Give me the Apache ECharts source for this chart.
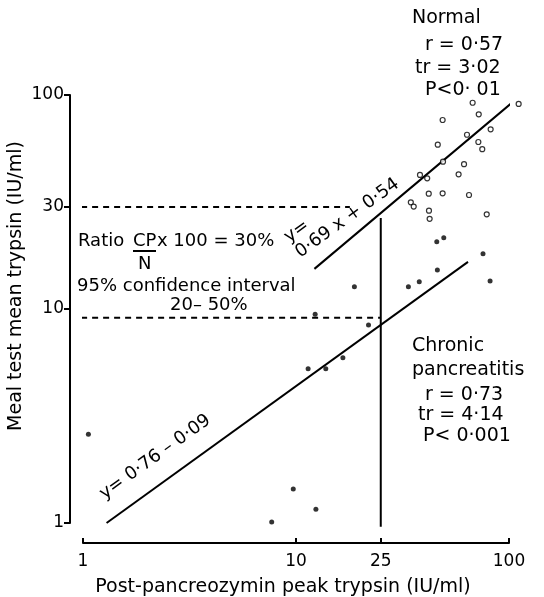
<!DOCTYPE html>
<html>
<head>
<meta charset="utf-8">
<script src="https://cdn.jsdelivr.net/npm/echarts@6/dist/echarts.min.js"></script>
<style>
  html, body { margin: 0; padding: 0; background: #fff; }
  #chart { width: 544px; height: 597px; }
</style>
</head>
<body>
<div id="chart"></div>
<script>
// axis ticks
const xTicks = [1, 10, 25, 100];
const yTicks = [1, 10, 30, 100];

// Normal subjects (open circles)
const normalX = [67.5, 111, 72.1, 48.8, 82.0, 63.5, 71.8, 46.3, 74.9, 49.0, 61.5, 38.2, 41.3, 58.0, 42.0, 48.8, 64.9, 34.6, 35.7, 42.1, 42.4, 78.6];
const normalY = [92.0, 90.8, 81.2, 76.4, 69.1, 65.2, 60.3, 58.6, 55.8, 48.8, 47.5, 42.3, 40.8, 42.6, 34.6, 34.7, 34.1, 31.5, 30.1, 28.8, 26.4, 27.7];

// Chronic pancreatitis (filled dots)
const chronicX = [1.06, 11.4, 13.8, 16.6, 9.71, 12.4, 7.69, 12.3, 18.8, 21.9, 33.7, 37.9, 46.1, 45.8, 49.4, 75.5, 81.5];
const chronicY = [2.60, 5.26, 5.26, 5.92, 1.44, 1.16, 1.01, 9.45, 12.7, 8.42, 12.7, 13.4, 15.2, 20.6, 21.5, 18.1, 13.5];

// regression lines (end points)
const normalFitX = [12.2, 112];
const normalFitY = [15.4, 98.5];
const chronicFitX = [1.29, 64.2];
const chronicFitY = [1.0, 16.6];

// ratio construction lines
const ratioX = [25, 25];
const ratioY = [0.96, 26.6];
const levelNormalX = [0.87, 17.9];
const levelNormalY = [30, 30];
const levelChronicX = [0.87, 25];
const levelChronicY = [9.1, 9.1];

const pairs = (xs, ys) => xs.map((x, i) => [x, ys[i]]);

var chart = echarts.init(document.getElementById('chart'));

const font = 'DejaVu Sans';
const txt = (x, y, text, size, extra) => Object.assign({
    type: 'text', x: x, y: y,
    style: { text: text, font: size + 'px "' + font + '"', fill: '#000', align: 'left', verticalAlign: 'middle' }
}, extra || {});

const lineSeries = (xs, ys, dashed) => ({
    type: 'line',
    data: pairs(xs, ys),
    symbol: 'none',
    clip: false,
    silent: true,
    lineStyle: { color: '#000', width: 2, type: dashed ? [6, 5] : 'solid' },
    z: 2
});

var option = {
    animation: false,
    backgroundColor: '#fff',
    grid: { left: 83, right: 35, top: 95, bottom: 74 },
    xAxis: {
        type: 'log', logBase: 10, min: 1, max: 100,
        offset: 20,
        axisLine: { lineStyle: { color: '#000', width: 2 } },
        axisTick: { inside: true, length: 5, lineStyle: { color: '#000', width: 2 }, customValues: xTicks },
        minorTick: { show: false },
        splitLine: { show: false },
        axisLabel: { color: '#000', fontSize: 17, fontFamily: font, margin: 10, customValues: xTicks }
    },
    yAxis: {
        type: 'log', logBase: 10, min: 1, max: 100,
        offset: 13,
        axisLine: { lineStyle: { color: '#000', width: 2 } },
        axisTick: { inside: false, length: 6, lineStyle: { color: '#000', width: 2 }, customValues: yTicks },
        minorTick: { show: false },
        splitLine: { show: false },
        axisLabel: { color: '#000', fontSize: 17, fontFamily: font, margin: 6, customValues: yTicks }
    },
    series: [
        lineSeries(normalFitX, normalFitY),
        lineSeries(chronicFitX, chronicFitY),
        lineSeries(ratioX, ratioY),
        lineSeries(levelNormalX, levelNormalY, true),
        lineSeries(levelChronicX, levelChronicY, true),
        {
            name: 'Normal', type: 'scatter', data: pairs(normalX, normalY),
            symbol: 'circle', symbolSize: 5, clip: false,
            itemStyle: { color: '#fff', borderColor: '#000', borderWidth: 1.2 }, z: 3
        },
        {
            name: 'Chronic pancreatitis', type: 'scatter', data: pairs(chronicX, chronicY),
            symbol: 'circle', symbolSize: 5, clip: false,
            itemStyle: { color: '#000' }, z: 3
        }
    ],
    graphic: [
        // axis titles
        txt(283, 587, 'Post-pancreozymin peak trypsin (IU/ml)', 19, { style: { text: 'Post-pancreozymin peak trypsin (IU/ml)', font: '19px "' + font + '"', fill: '#000', align: 'center', verticalAlign: 'middle' } }),
        { type: 'text', x: 16, y: 286, rotation: Math.PI / 2,
          style: { text: 'Meal test mean trypsin (IU/ml)', font: '19px "' + font + '"', fill: '#000', align: 'center', verticalAlign: 'middle' } },
        // Normal stats
        txt(412, 18, 'Normal', 19),
        txt(425, 45, 'r = 0·57', 19),
        txt(415, 68, 'tr = 3·02', 19),
        txt(425, 90, 'P<0· 01', 19),
        // Chronic stats
        txt(412, 346, 'Chronic', 19),
        txt(412, 370, 'pancreatitis', 19),
        txt(425, 395, 'r = 0·73', 19),
        txt(418, 415, 'tr = 4·14', 19),
        txt(423, 436, 'P< 0·001', 19),
        // ratio annotation
        txt(78, 241, 'Ratio', 18),
        txt(133, 241, 'CP', 18),
        { type: 'line', shape: { x1: 133, y1: 251, x2: 156, y2: 251 }, style: { stroke: '#000', lineWidth: 2 } },
        txt(138, 264, 'N', 18),
        txt(157, 241, 'x 100 = 30%', 18),
        txt(77, 286, '95% confidence interval', 18),
        txt(170, 305, '20– 50%', 18),
        // equations
        { type: 'text', x: 303, y: 262, rotation: 0.625,
          style: { text: 'y=\n0·69 x + 0·54', font: '18px "' + font + '"', fill: '#000', align: 'left', verticalAlign: 'bottom', lineHeight: 19 } },
        { type: 'text', x: 107, y: 503, rotation: 0.625,
          style: { text: 'y= 0·76 – 0·09', font: '18px "' + font + '"', fill: '#000', align: 'left', verticalAlign: 'bottom' } }
    ]
};

chart.setOption(option);
</script>
</body>
</html>
